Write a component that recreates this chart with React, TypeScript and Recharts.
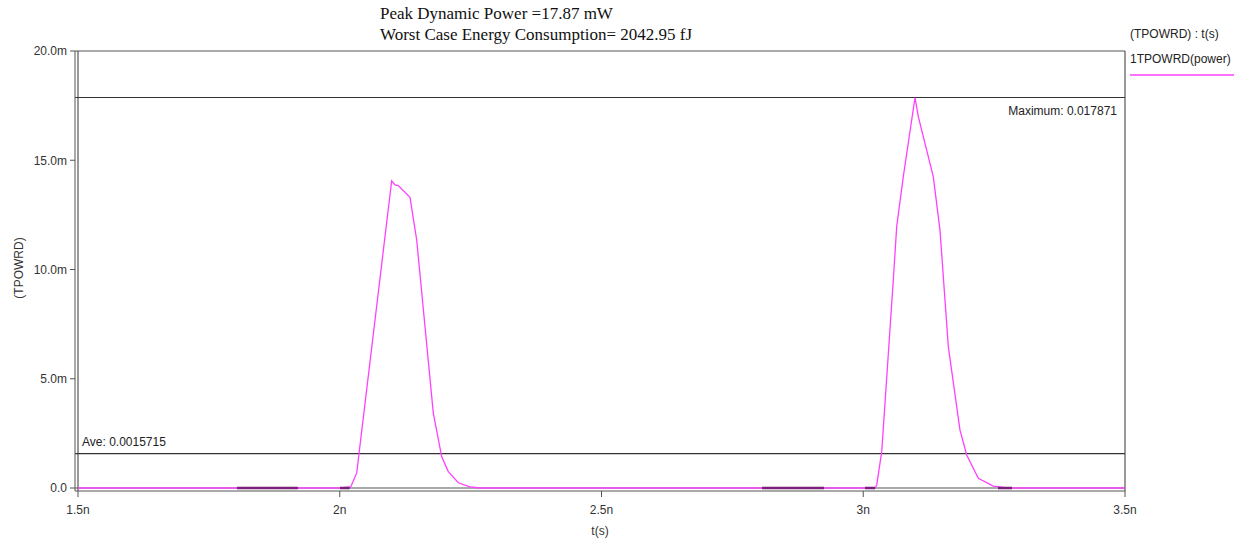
import {
  ComposedChart,
  XAxis,
  YAxis,
  Line,
  ReferenceLine,
} from "recharts";

// time in ns, power in mW
const timeNs = [
  1.5, 2.0005, 2.0209, 2.0324, 2.0992, 2.1055, 2.1118, 2.1342, 2.147, 2.1787, 2.1948, 2.2074, 2.2265, 2.2488, 2.268,
  3.0225, 3.0257, 3.0353, 3.0574, 3.0639, 3.0765, 3.0989, 3.1052, 3.1338, 3.1466, 3.1625, 3.1848, 3.1976, 3.2198, 3.2484, 3.274,
  3.5,
];
const powerMw = [
  0, 0, 0.05, 0.69, 14.06, 13.87, 13.84, 13.3, 11.35, 3.43, 1.43, 0.75, 0.24, 0.05, 0,
  0, 0.14, 1.66, 9.52, 11.96, 14.25, 17.871, 17.0, 14.25, 11.8, 6.47, 2.65, 1.51, 0.44, 0.09, 0,
  0,
];

// darker overlapping bits along the baseline (null = gap)
const darkTimeNs = [1.8037, 1.92, 1.95, 2.0005, 2.019, 2.5, 2.8066, 2.925, 2.96, 3.0034, 3.0225, 3.1, 3.2574, 3.2842];
const darkPower = [0, 0, null, 0, 0, null, 0, 0, null, 0, 0, null, 0, 0];

const xTicks = [1.5, 2, 2.5, 3, 3.5];
const xTickLabels = ["1.5n", "2n", "2.5n", "3n", "3.5n"];
const yTicks = [0, 5, 10, 15, 20];
const yTickLabels = ["0.0", "5.0m", "10.0m", "15.0m", "20.0m"];

const maxValue = 17.871;
const aveValue = 1.5715;

const titleLines = ["Peak Dynamic Power =17.87 mW", "Worst Case Energy Consumption= 2042.95 fJ"];
const legendHeader = "(TPOWRD) : t(s)";
const seriesName = "1TPOWRD(power)";

const MAGENTA = "#ff40ff";
const FRAME = "#555";
const SANS = "Arial, 'Liberation Sans', sans-serif";

const traceData = timeNs.map((t, i) => ({ t, p: powerMw[i] }));
const darkData = darkTimeNs.map((t, i) => ({ t, p: darkPower[i] }));

export default function App() {
  return (
    <div style={{ position: "absolute", left: 0, top: 0, width: 1241, height: 541, background: "#fff" }}>
      <ComposedChart
        width={1241}
        height={541}
        margin={{ top: 51, right: 116, left: 15, bottom: 0 }}
      >
        <XAxis
          type="number"
          dataKey="t"
          domain={[1.5, 3.5]}
          ticks={xTicks}
          tickFormatter={(v: number) => xTickLabels[xTicks.indexOf(v)] ?? ""}
          padding={{ left: 3, right: 0 }}
          height={50}
          stroke={FRAME}
          tickSize={6}
          tickMargin={8}
          tick={{ fontSize: 12, fill: "#333", fontFamily: SANS }}
          label={{
            content: (props: any) => {
              const vb = props.viewBox || {};
              return (
                <text
                  x={(vb.x ?? 0) + (vb.width ?? 0) / 2}
                  y={(vb.y ?? 0) + 44}
                  textAnchor="middle"
                  fontSize={12}
                  fill="#333"
                  fontFamily={SANS}
                >
                  t(s)
                </text>
              );
            },
          }}
        />
        <YAxis
          type="number"
          domain={[0, 20]}
          ticks={yTicks}
          tickFormatter={(v: number) => yTickLabels[yTicks.indexOf(v)] ?? ""}
          padding={{ top: 0, bottom: 3 }}
          width={60}
          stroke={FRAME}
          tickSize={5}
          tickMargin={3}
          tick={{ fontSize: 12, fill: "#333", fontFamily: SANS }}
          label={{
            content: (props: any) => {
              const vb = props.viewBox || {};
              const cx = (vb.x ?? 0) + 8;
              const cy = (vb.y ?? 0) + (vb.height ?? 0) / 2 - 3;
              return (
                <text
                  x={cx}
                  y={cy}
                  transform={`rotate(-90 ${cx} ${cy})`}
                  textAnchor="middle"
                  fontSize={12}
                  fill="#333"
                  fontFamily={SANS}
                >
                  (TPOWRD)
                </text>
              );
            },
          }}
        />
        <ReferenceLine y={20} stroke={FRAME} strokeWidth={1.2} ifOverflow="extendDomain" />
        <ReferenceLine x={3.5} stroke={FRAME} strokeWidth={1.2} />
        <ReferenceLine x={1.5} stroke={FRAME} strokeWidth={1.2} />
        <ReferenceLine y={0} stroke={FRAME} strokeWidth={1.2} />
        <ReferenceLine
          y={maxValue}
          stroke="#333"
          strokeWidth={1.2}
          label={{
            content: (props: any) => {
              const vb = props.viewBox || {};
              return (
                <text
                  x={(vb.x ?? 0) + (vb.width ?? 0) - 8}
                  y={(vb.y ?? 0) + 17}
                  textAnchor="end"
                  fontSize={12}
                  fill="#222"
                  fontFamily={SANS}
                >
                  {`Maximum: ${(maxValue / 1000).toFixed(6)}`}
                </text>
              );
            },
          }}
        />
        <ReferenceLine
          y={aveValue}
          stroke="#333"
          strokeWidth={1.2}
          label={{
            content: (props: any) => {
              const vb = props.viewBox || {};
              return (
                <text
                  x={(vb.x ?? 0) + 7}
                  y={(vb.y ?? 0) - 8}
                  textAnchor="start"
                  fontSize={12}
                  fill="#222"
                  fontFamily={SANS}
                >
                  {`Ave: ${(aveValue / 1000).toFixed(7)}`}
                </text>
              );
            },
          }}
        />
        <Line
          data={traceData}
          dataKey="p"
          type="linear"
          stroke={MAGENTA}
          strokeWidth={1.3}
          dot={false}
          activeDot={false}
          isAnimationActive={false}
        />
        <Line
          data={darkData}
          dataKey="p"
          type="linear"
          stroke="#7a1f7a"
          strokeWidth={2.5}
          dot={false}
          activeDot={false}
          connectNulls={false}
          isAnimationActive={false}
        />
      </ComposedChart>

      <div
        style={{
          position: "absolute",
          left: 380,
          top: 3,
          fontFamily: "'Liberation Serif', 'Times New Roman', serif",
          fontSize: 17,
          lineHeight: "21px",
          color: "#111",
          whiteSpace: "nowrap",
        }}
      >
        {titleLines.map((l) => (
          <div key={l}>{l}</div>
        ))}
      </div>

      <div
        style={{
          position: "absolute",
          left: 1130,
          top: 27,
          fontFamily: SANS,
          fontSize: 12,
          color: "#222",
          whiteSpace: "nowrap",
        }}
      >
        <div style={{ height: 25 }}>{legendHeader}</div>
        <div>{seriesName}</div>
      </div>
      <svg
        style={{ position: "absolute", left: 1129, top: 72 }}
        width={106}
        height={6}
      >
        <line x1={1} y1={3} x2={105} y2={3} stroke={MAGENTA} strokeWidth={1.5} />
      </svg>
    </div>
  );
}
